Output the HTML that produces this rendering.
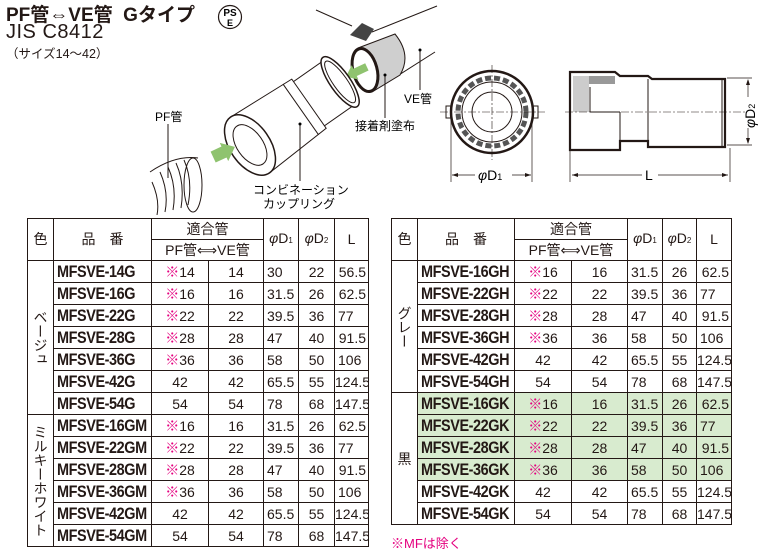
<!DOCTYPE html>
<html><head><meta charset="utf-8"><style>
body{margin:0;width:765px;height:552px;background:#fff;overflow:hidden;position:relative;font-family:"Liberation Sans","Noto Sans CJK JP",sans-serif;color:#231815}
.a{position:absolute;white-space:nowrap}
table{position:absolute;border-collapse:collapse;table-layout:fixed;top:218px}
td{border:1.3px solid #231815;padding:0;height:21px;font-size:14px;line-height:20px;color:#231815;white-space:nowrap;overflow:hidden}
td.p{padding-left:3px}
td.p span{display:inline-block;font-weight:bold;font-size:17px;letter-spacing:-0.5px;transform:scaleX(0.85);transform-origin:left}
td.c{text-align:center}
td.l{padding-left:3px}
td.r{text-align:right;padding-right:2px}
.k{color:#e4007f}
.h td{text-align:center;font-size:14px;height:20px;line-height:19px}
.g td.gg{background:#d8ebcf}
.v{writing-mode:vertical-rl;text-align:center;font-size:14px;color:#231815;white-space:normal}
</style></head><body>
<div class="a" style="left:6px;top:0;font-size:19px;font-weight:bold">PF管⇔VE管 &nbsp;Gタイプ</div>
<div class="a" style="left:6px;top:21px;font-size:20px;font-weight:300;letter-spacing:0.5px">JIS C8412</div>
<div class="a" style="left:6px;top:43px;font-size:12.5px">（サイズ14〜42）</div>
<svg class="a" style="left:0;top:0" width="765" height="215">
<circle cx="230" cy="17" r="11.5" fill="none" stroke="#231815" stroke-width="1.2"/>
<text x="230" y="16" font-size="10" font-weight="bold" text-anchor="middle" font-family="Liberation Sans">PS</text>
<text x="230" y="26" font-size="9" font-weight="bold" text-anchor="middle" font-family="Liberation Sans">E</text>
<!-- VE pipe -->
<g stroke="#231815" fill="none" stroke-width="1">
<line x1="316" y1="10" x2="352" y2="26"/>
<line x1="372" y1="32" x2="437" y2="6"/>
<line x1="380" y1="87" x2="435" y2="52"/>
<path d="M358 48 L395 34 Q412 55 400 75 L372 92 Z" fill="#cfcfcf"/>
<ellipse cx="365" cy="70" rx="12" ry="22" transform="rotate(-15 365 70)" fill="#fff" stroke-width="3"/>
</g>
<path d="M350 35 l12 -12 l12 6 l-8 12 z" fill="#444"/>
<polygon points="345,72 355,64 355,68 368,68 368,76 355,76 355,80" fill="#8fc36f" transform="rotate(-25 356 72)"/>
<!-- coupling -->
<g transform="translate(250 145) rotate(-35)" stroke="#231815" fill="#fff" stroke-width="1">
<path d="M70 -27 L110 -27 L110 27 L70 27 Z"/>
<ellipse cx="110" cy="0" rx="10" ry="30" stroke-width="1.5"/>
<ellipse cx="110" cy="0" rx="7" ry="25"/>
<path d="M0 -34 L72 -30 L72 30 L0 34 Z"/>
<line x1="62" y1="-31" x2="62" y2="31"/>
<ellipse cx="0" cy="0" rx="20" ry="34" stroke-width="1.5"/>
<ellipse cx="0" cy="0" rx="13" ry="23"/>
</g>
<polygon points="236,152 224,142 224,146 212,146 212,158 224,158 224,162" fill="#8fc36f" transform="rotate(-25 224 152)"/>
<!-- PF pipe -->
<g stroke="#231815" fill="none" stroke-width="1">
<path d="M150 172 Q175 155 198 158"/>
<ellipse cx="193" cy="185" rx="9" ry="27"/>
<path d="M152 182 q8 18 5 33 M160 172 q9 20 5 40 M168 167 q9 20 5 43 M176 163 q9 20 5 45 M184 160 q9 20 4 45"/>
</g>
<line x1="168" y1="124" x2="168" y2="178" stroke="#231815"/>
<line x1="300" y1="124" x2="300" y2="181" stroke="#231815"/><circle cx="300" cy="124" r="1.5"/>
<line x1="385" y1="75" x2="385" y2="118" stroke="#231815"/><circle cx="385" cy="75" r="1.5"/>
<line x1="420" y1="50" x2="420" y2="90" stroke="#231815"/><circle cx="420" cy="50" r="1.5"/>
<text x="155" y="121" font-size="12" font-family="Liberation Sans,Noto Sans CJK JP">PF管</text>
<text x="404" y="103" font-size="12" font-family="Liberation Sans,Noto Sans CJK JP">VE管</text>
<text x="355" y="130" font-size="12" font-family="Liberation Sans,Noto Sans CJK JP">接着剤塗布</text>
<text x="253" y="194" font-size="12" font-family="Liberation Sans,Noto Sans CJK JP">コンビネーション</text>
<text x="263" y="208" font-size="12" font-family="Liberation Sans,Noto Sans CJK JP">カップリング</text>
<!-- front view -->
<g stroke="#231815" fill="none">
<rect x="446" y="106" width="92" height="12" fill="#fff"/>
<circle cx="492" cy="112" r="41" fill="#fff" stroke-width="2.5"/>
<circle cx="492" cy="112" r="34" stroke-dasharray="6 3" stroke-width="5" stroke="#555"/>
<circle cx="492" cy="112" r="30"/>
<circle cx="492" cy="112" r="20"/>
<line x1="492" y1="65" x2="492" y2="160" stroke-dasharray="8 2 2 2" stroke-width="0.6"/>
<line x1="440" y1="112" x2="545" y2="112" stroke-dasharray="8 2 2 2" stroke-width="0.6"/>
<line x1="451" y1="116" x2="451" y2="182" stroke-width="0.7"/><line x1="532" y1="116" x2="532" y2="182" stroke-width="0.7"/>
<line x1="452" y1="175" x2="475" y2="175" stroke-width="0.7"/><line x1="512" y1="175" x2="531" y2="175" stroke-width="0.7"/>
<!-- side view -->
<path d="M570 72 H615 L620 76 H648 L652 79 H725 V147 H648 V141 H620 V150 H570 Z" fill="#fff" stroke-width="2.2"/>
<rect x="575" y="76" width="40" height="8" fill="#999" stroke="none"/>
<rect x="573" y="76" width="16" height="36" fill="#ccc" stroke="none"/>
<line x1="648" y1="79" x2="648" y2="147"/><line x1="620" y1="112" x2="620" y2="141"/>
<line x1="590" y1="112" x2="620" y2="112"/><line x1="590" y1="87" x2="590" y2="112"/>
<line x1="722" y1="80" x2="722" y2="146"/>
<line x1="565" y1="112" x2="745" y2="112" stroke-dasharray="8 2 2 2" stroke-width="0.6"/>
<line x1="570" y1="150" x2="570" y2="182" stroke-width="0.7"/><line x1="730" y1="148" x2="730" y2="182" stroke-width="0.7"/>
<line x1="572" y1="175" x2="642" y2="175" stroke-width="0.7"/><line x1="658" y1="175" x2="728" y2="175" stroke-width="0.7"/>
<line x1="727" y1="78" x2="752" y2="78" stroke-width="0.7"/><line x1="727" y1="145" x2="752" y2="145" stroke-width="0.7"/>
<line x1="748" y1="80" x2="748" y2="97" stroke-width="0.7"/><line x1="748" y1="128" x2="748" y2="143" stroke-width="0.7"/>
</g>
<g fill="#231815"><path d="M452 175 l6 -2 v4z M531 175 l-6 -2 v4z M572 175 l6 -2 v4z M728 175 l-6 -2 v4z M748 79 l-2 6 h4z M748 144 l-2 -6 h4z"/></g>
<text x="478" y="180" font-size="14" font-family="Liberation Sans"><tspan font-style="italic">φ</tspan>D<tspan font-size="9">1</tspan></text>
<text x="645" y="180" font-size="14" font-family="Liberation Sans">L</text>
<text transform="translate(755 128) rotate(-90)" font-size="14" font-family="Liberation Sans"><tspan font-style="italic">φ</tspan>D<tspan font-size="9">2</tspan></text>
</svg>

<table style="left:27px;width:341px">
<colgroup><col style="width:26px"><col style="width:98px"><col style="width:57px"><col style="width:55px"><col style="width:35px"><col style="width:36px"><col style="width:34px"></colgroup>
<tr class="h"><td rowspan="2">色</td><td rowspan="2">品　番</td><td colspan="2">適合管</td><td rowspan="2"><i>φ</i>D<small style="font-size:8px">1</small></td><td rowspan="2"><i>φ</i>D<small style="font-size:8px">2</small></td><td rowspan="2">L</td></tr>
<tr class="h"><td colspan="2">PF管⟺VE管</td></tr>
<tr><td rowspan="7" class="v">ベージュ</td><td class="p"><span>MFSVE-14G</span></td><td class="c"><span class="k">※</span>14</td><td class="c">14</td><td class="l">30</td><td class="c">22</td><td class="r">56.5</td></tr>
<tr><td class="p"><span>MFSVE-16G</span></td><td class="c"><span class="k">※</span>16</td><td class="c">16</td><td class="l">31.5</td><td class="c">26</td><td class="r">62.5</td></tr>
<tr><td class="p"><span>MFSVE-22G</span></td><td class="c"><span class="k">※</span>22</td><td class="c">22</td><td class="l">39.5</td><td class="c">36</td><td class="l">77</td></tr>
<tr><td class="p"><span>MFSVE-28G</span></td><td class="c"><span class="k">※</span>28</td><td class="c">28</td><td class="l">47</td><td class="c">40</td><td class="r">91.5</td></tr>
<tr><td class="p"><span>MFSVE-36G</span></td><td class="c"><span class="k">※</span>36</td><td class="c">36</td><td class="l">58</td><td class="c">50</td><td class="l">106</td></tr>
<tr><td class="p"><span>MFSVE-42G</span></td><td class="c">42</td><td class="c">42</td><td class="l">65.5</td><td class="c">55</td><td class="r">124.5</td></tr>
<tr><td class="p"><span>MFSVE-54G</span></td><td class="c">54</td><td class="c">54</td><td class="l">78</td><td class="c">68</td><td class="r">147.5</td></tr>
<tr><td rowspan="6" class="v">ミルキーホワイト</td><td class="p"><span>MFSVE-16GM</span></td><td class="c"><span class="k">※</span>16</td><td class="c">16</td><td class="l">31.5</td><td class="c">26</td><td class="r">62.5</td></tr>
<tr><td class="p"><span>MFSVE-22GM</span></td><td class="c"><span class="k">※</span>22</td><td class="c">22</td><td class="l">39.5</td><td class="c">36</td><td class="l">77</td></tr>
<tr><td class="p"><span>MFSVE-28GM</span></td><td class="c"><span class="k">※</span>28</td><td class="c">28</td><td class="l">47</td><td class="c">40</td><td class="r">91.5</td></tr>
<tr><td class="p"><span>MFSVE-36GM</span></td><td class="c"><span class="k">※</span>36</td><td class="c">36</td><td class="l">58</td><td class="c">50</td><td class="l">106</td></tr>
<tr><td class="p"><span>MFSVE-42GM</span></td><td class="c">42</td><td class="c">42</td><td class="l">65.5</td><td class="c">55</td><td class="r">124.5</td></tr>
<tr><td class="p"><span>MFSVE-54GM</span></td><td class="c">54</td><td class="c">54</td><td class="l">78</td><td class="c">68</td><td class="r">147.5</td></tr>
</table>

<table style="left:391px;width:341px">
<colgroup><col style="width:26px"><col style="width:97px"><col style="width:57px"><col style="width:56px"><col style="width:35px"><col style="width:34px"><col style="width:35px"></colgroup>
<tr class="h"><td rowspan="2">色</td><td rowspan="2">品　番</td><td colspan="2">適合管</td><td rowspan="2"><i>φ</i>D<small style="font-size:8px">1</small></td><td rowspan="2"><i>φ</i>D<small style="font-size:8px">2</small></td><td rowspan="2">L</td></tr>
<tr class="h"><td colspan="2">PF管⟺VE管</td></tr>
<tr><td rowspan="6" class="v">グレー</td><td class="p"><span>MFSVE-16GH</span></td><td class="c"><span class="k">※</span>16</td><td class="c">16</td><td class="l">31.5</td><td class="c">26</td><td class="r">62.5</td></tr>
<tr><td class="p"><span>MFSVE-22GH</span></td><td class="c"><span class="k">※</span>22</td><td class="c">22</td><td class="l">39.5</td><td class="c">36</td><td class="l">77</td></tr>
<tr><td class="p"><span>MFSVE-28GH</span></td><td class="c"><span class="k">※</span>28</td><td class="c">28</td><td class="l">47</td><td class="c">40</td><td class="r">91.5</td></tr>
<tr><td class="p"><span>MFSVE-36GH</span></td><td class="c"><span class="k">※</span>36</td><td class="c">36</td><td class="l">58</td><td class="c">50</td><td class="l">106</td></tr>
<tr><td class="p"><span>MFSVE-42GH</span></td><td class="c">42</td><td class="c">42</td><td class="l">65.5</td><td class="c">55</td><td class="r">124.5</td></tr>
<tr><td class="p"><span>MFSVE-54GH</span></td><td class="c">54</td><td class="c">54</td><td class="l">78</td><td class="c">68</td><td class="r">147.5</td></tr>
<tr class="g"><td rowspan="6" class="c">黒</td><td class="p gg"><span>MFSVE-16GK</span></td><td class="c gg"><span class="k">※</span>16</td><td class="c gg">16</td><td class="l gg">31.5</td><td class="c gg">26</td><td class="r gg">62.5</td></tr>
<tr class="g"><td class="p gg"><span>MFSVE-22GK</span></td><td class="c gg"><span class="k">※</span>22</td><td class="c gg">22</td><td class="l gg">39.5</td><td class="c gg">36</td><td class="l gg">77</td></tr>
<tr class="g"><td class="p gg"><span>MFSVE-28GK</span></td><td class="c gg"><span class="k">※</span>28</td><td class="c gg">28</td><td class="l gg">47</td><td class="c gg">40</td><td class="r gg">91.5</td></tr>
<tr class="g"><td class="p gg"><span>MFSVE-36GK</span></td><td class="c gg"><span class="k">※</span>36</td><td class="c gg">36</td><td class="l gg">58</td><td class="c gg">50</td><td class="l gg">106</td></tr>
<tr><td class="p"><span>MFSVE-42GK</span></td><td class="c">42</td><td class="c">42</td><td class="l">65.5</td><td class="c">55</td><td class="r">124.5</td></tr>
<tr><td class="p"><span>MFSVE-54GK</span></td><td class="c">54</td><td class="c">54</td><td class="l">78</td><td class="c">68</td><td class="r">147.5</td></tr>
</table>
<div class="a" style="left:391px;top:533px;font-size:13px;color:#e4007f">※MFは除く</div>
</body></html>
